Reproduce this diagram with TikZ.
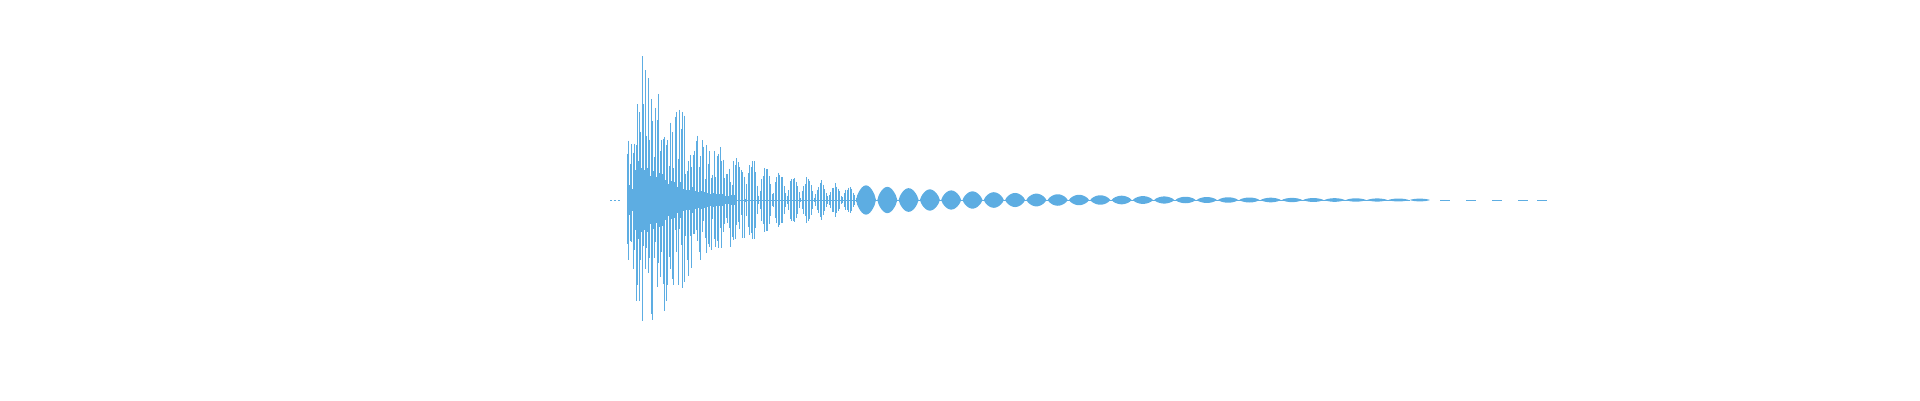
\documentclass[tikz,border=0pt]{standalone}
\definecolor{wave}{RGB}{93,173,226}
\begin{document}
\begin{tikzpicture}[x=1pt,y=-1pt,bar/.style={wave,line width=1pt}]
\useasboundingbox (0,0) rectangle (1920,400);
\pgfmathsetseed{11}
\coordinate (c) at (0,200);
% leading dots
\foreach \x in {610,614,618}{\fill[wave] (\x,199.5) rectangle ++(1.6,1);}
% center line
\draw[wave,line width=0.8pt] (627,200) -- (1410,200);
% dense core
\foreach \x in {627,629,...,735}{
  \pgfmathsetmacro{\c}{(\x<634?15:50*exp(-(\x-634)/45))*(0.6+0.4*rnd)}
  \fill[wave] (\x,200-\c) rectangle (\x+2,200+\c);
}
% early spikes
\foreach \x in {627,628.5,...,745}{
  \pgfmathsetmacro{\env}{\x<641?60+(\x-627)*6.5:155*exp(-(\x-641)/75)}
  \pgfmathsetmacro{\h}{\env*(0.3+0.7*rnd)}
  \pgfmathsetmacro{\hb}{\env*(0.3+0.7*rnd)}
  \draw[bar] (\x,200-\h) -- (\x,200+\hb);
}
% bursts
\foreach \x in {745,746.5,...,858}{
  \pgfmathsetmacro{\env}{48*exp(-(\x-745)/80)*abs(sin((\x-745)*13))}
  \pgfmathsetmacro{\h}{\env*(0.7+0.3*rnd)}
  \draw[bar] (\x,200-\h-1.5) -- (\x,200+\h+1.5);
}
% lenses
\foreach \i in {0,...,26}{
  \pgfmathsetmacro{\cx}{866+21.3*\i}
  \pgfmathsetmacro{\A}{14*exp(-\i/9)+0.6}
  \fill[wave] plot[domain=-10:10,samples=15] ({\cx+\x},{200-\A*(cos(\x*9))^0.7})
    -- plot[domain=10:-10,samples=15] ({\cx+\x},{200+\A*(cos(\x*9))^0.7}) -- cycle;
}
% tail dashes
\foreach \x in {1440,1466,1492,1518,1537}{\fill[wave] (\x,199.5) rectangle ++(10,1);}
\end{tikzpicture}
\end{document}
